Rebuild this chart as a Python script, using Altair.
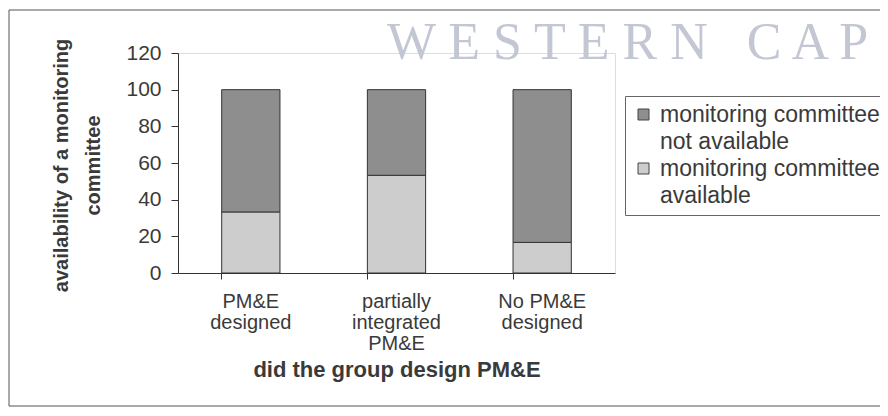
import altair as alt
import pandas as pd

categories = ["PM&E\ndesigned", "partially\nintegrated\nPM&E", "No PM&E\ndesigned"]
status_labels = ["monitoring committee\nnot available", "monitoring committee\navailable"]
available = [33.3, 53.3, 16.7]
not_available = [66.7, 46.7, 83.3]
y_ticks = [0, 20, 40, 60, 80, 100, 120]
x_title = "did the group design PM&E"
y_title = ["availability of a monitoring", "committee"]
watermark = "W E S T E R N\u00a0\u00a0\u00a0C A P E"

rows = []
for c, a, n in zip(categories, available, not_available):
    rows.append({"group": c, "status": status_labels[1], "value": a, "ord": 0})
    rows.append({"group": c, "status": status_labels[0], "value": n, "ord": 1})
df = pd.DataFrame(rows)

DARK = "#8e8e8e"
LIGHT = "#cdcdcd"
TXT = "#3a3a3a"

bars = alt.Chart(df).mark_bar(stroke="#333333", strokeWidth=1).encode(
    x=alt.X("group:N", sort=categories,
            scale=alt.Scale(paddingInner=0.6, paddingOuter=0.3),
            axis=alt.Axis(title=x_title, labelAngle=0,
                          labelExpr="split(datum.label, '\\n')",
                          labelFontSize=20, labelColor=TXT, labelLineHeight=21,
                          labelBaseline="alphabetic", labelPadding=28,
                          bandPosition=0, tickSize=6, tickColor="#333333",
                          domainColor="#333333",
                          titleFontSize=22, titleFontWeight="bold", titleColor=TXT,
                          titleBaseline="alphabetic", titleY=103)),
    y=alt.Y("value:Q", stack="zero",
            scale=alt.Scale(domain=[0, 120]),
            axis=alt.Axis(values=y_ticks, title=y_title, grid=False,
                          labelFontSize=21, labelColor=TXT, labelPadding=10,
                          tickSize=7, tickColor="#333333", domainColor="#333333",
                          titleFontSize=20, titleFontWeight="bold", titleColor=TXT,
                          titleAngle=270, titleBaseline="middle", titleLineHeight=32,
                          titleX=-117, titleY=112)),
    color=alt.Color("status:N",
                    scale=alt.Scale(domain=status_labels, range=[DARK, LIGHT]),
                    legend=alt.Legend(title=None, orient="none", legendX=447, legendY=43,
                                      strokeColor="#666666", padding=7,
                                      labelFontSize=23, labelColor=TXT, labelLimit=500,
                                      labelOffset=5,
                                      labelExpr="split(datum.label, '\\n')",
                                      symbolType="square", symbolSize=121,
                                      symbolStrokeColor="#444444", symbolStrokeWidth=1,
                                      rowPadding=3)),
    order=alt.Order("ord:Q"),
)

frame = alt.Chart(alt.Data(values=[{}])).mark_rect(
    fill="transparent", stroke="#555555", strokeWidth=1
).encode(x=alt.value(-169), x2=alt.value(720), y=alt.value(-43), y2=alt.value(353))

mark_wm = alt.Chart(alt.Data(values=[{}])).mark_text(
    text=watermark, font="Liberation Serif", fontSize=52, color="#c3c7d4",
    align="left", baseline="alphabetic"
).encode(x=alt.value(209), y=alt.value(6))

chart = alt.layer(frame, bars, mark_wm).properties(
    width=437, height=220,
    autosize=alt.AutoSizeParams(type="none"),
    padding={"left": 170, "top": 45, "right": 265, "bottom": 135},
).configure_view(stroke="#777777").configure(
    font="Liberation Sans", style={"guide-label": {"lineHeight": 27}}
)

chart.save("out.html", embed_options={"renderer": "svg", "actions": False})
